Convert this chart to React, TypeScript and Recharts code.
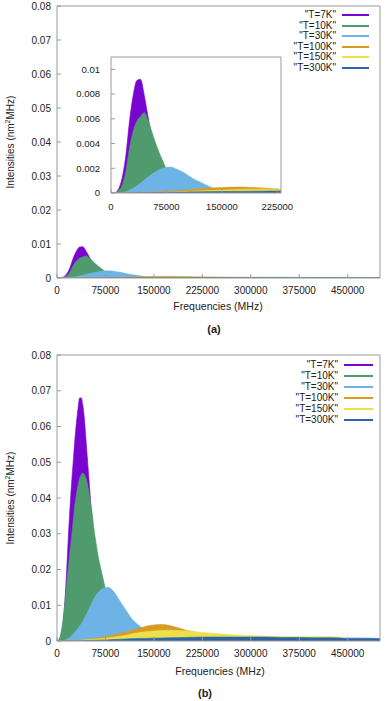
import { ComposedChart, Area, XAxis, YAxis } from 'recharts';

type Pt = [number, number];

const seriesNames = ['"T=7K"', '"T=10K"', '"T=30K"', '"T=100K"', '"T=150K"', '"T=300K"'];
const seriesColors = ['#7b05d0', '#4f9b6d', '#6db3e6', '#d99a22', '#ece04a', '#2d64a8'];

const freqTicks = [0, 75000, 150000, 225000, 300000, 375000, 450000];
const insetFreqTicks = [0, 75000, 150000, 225000];
const intensityTicks = [0, 0.01, 0.02, 0.03, 0.04, 0.05, 0.06, 0.07, 0.08];
const insetIntensityTicks = [0, 0.002, 0.004, 0.006, 0.008, 0.01];

// panel (a): [frequency MHz, intensity]
const a7K: Pt[] = [
  [0, 0], [5000, 0], [10000, 0.0003], [15000, 0.0012], [20000, 0.003], [25000, 0.0058],
  [30000, 0.0079], [35000, 0.0091], [40000, 0.0092], [45000, 0.0079], [50000, 0.0062],
  [55000, 0.0045], [60000, 0.0031], [65000, 0.002], [70000, 0.0011], [75000, 0.0006],
  [80000, 0.0003], [85000, 0.00012], [90000, 0.00005], [95000, 0],
];
const a10K: Pt[] = [
  [0, 0], [5000, 0], [10000, 0.0002], [15000, 0.0006], [20000, 0.0017], [25000, 0.0036],
  [30000, 0.005], [35000, 0.0058], [40000, 0.0062], [45000, 0.0065], [50000, 0.0059],
  [55000, 0.005], [60000, 0.0041], [65000, 0.0033], [70000, 0.0026], [75000, 0.0019],
  [80000, 0.0013], [85000, 0.0009], [90000, 0.0006], [95000, 0.0004], [100000, 0.00025],
  [110000, 0.0001], [120000, 0.00004], [130000, 0],
];
const a30K: Pt[] = [
  [0, 0], [10000, 0], [20000, 0.0001], [30000, 0.0004], [40000, 0.0008], [50000, 0.0013],
  [60000, 0.0017], [70000, 0.002], [80000, 0.0021], [90000, 0.0019], [100000, 0.0016],
  [110000, 0.0012], [120000, 0.0009], [130000, 0.0006], [140000, 0.00035], [150000, 0.00022],
  [160000, 0.00013], [180000, 0.00005], [200000, 0],
];
const a100K: Pt[] = [
  [0, 0], [25000, 0.00002], [50000, 0.00006], [75000, 0.00013], [100000, 0.00023],
  [125000, 0.00036], [150000, 0.00045], [175000, 0.00048], [200000, 0.00042],
  [225000, 0.00032], [250000, 0.00022], [275000, 0.00013], [300000, 0.00007],
  [325000, 0.00003], [350000, 0.00001], [375000, 0],
];
const a150K: Pt[] = [
  [0, 0], [25000, 0.00001], [50000, 0.00003], [75000, 0.00007], [100000, 0.00012],
  [125000, 0.00018], [150000, 0.00024], [175000, 0.00029], [200000, 0.00031],
  [225000, 0.00031], [250000, 0.00027], [275000, 0.0002], [300000, 0.00014],
  [325000, 0.00009], [350000, 0.00005], [375000, 0.00002], [400000, 0],
];
const a300K: Pt[] = [
  [0, 0], [50000, 0.00003], [100000, 0.00008], [150000, 0.00012], [200000, 0.00015],
  [250000, 0.00017], [300000, 0.00018], [350000, 0.00018], [400000, 0.00017],
  [450000, 0.00016], [500000, 0.00015],
];

// panel (b)
const b7K: Pt[] = [
  [0, 0], [2500, 0.0002], [5000, 0.001], [7500, 0.003], [10000, 0.006], [12500, 0.012],
  [15000, 0.02], [17500, 0.029], [20000, 0.037], [22500, 0.044], [25000, 0.05],
  [27500, 0.056], [30000, 0.061], [32500, 0.065], [35000, 0.068], [37500, 0.068],
  [40000, 0.066], [42500, 0.062], [45000, 0.056], [47500, 0.05], [50000, 0.044],
  [52500, 0.038], [55000, 0.032], [57500, 0.026], [60000, 0.021], [62500, 0.017],
  [65000, 0.013], [67500, 0.01], [70000, 0.0075], [75000, 0.0045], [80000, 0.0025],
  [85000, 0.0013], [90000, 0.0006], [95000, 0.0002], [100000, 0],
];
const b10K: Pt[] = [
  [0, 0], [2500, 0.0003], [5000, 0.0012], [7500, 0.0035], [10000, 0.007], [12500, 0.0115],
  [15000, 0.016], [17500, 0.0205], [20000, 0.025], [22500, 0.029], [25000, 0.0335],
  [27500, 0.038], [30000, 0.041], [32500, 0.0435], [35000, 0.0455], [37500, 0.0465],
  [40000, 0.047], [42500, 0.0465], [45000, 0.0455], [47500, 0.0435], [50000, 0.041],
  [52500, 0.038], [55000, 0.035], [57500, 0.031], [60000, 0.028], [62500, 0.025],
  [65000, 0.0225], [67500, 0.0205], [70000, 0.0185], [72500, 0.0165], [75000, 0.0145],
  [77500, 0.012], [80000, 0.01], [85000, 0.0068], [90000, 0.0045], [95000, 0.003],
  [100000, 0.0019], [110000, 0.0007], [120000, 0.0002], [130000, 0],
];
const b30K: Pt[] = [
  [0, 0], [5000, 0], [10000, 0.0001], [15000, 0.0005], [20000, 0.001], [25000, 0.0019],
  [30000, 0.003], [35000, 0.0042], [40000, 0.0055], [45000, 0.0073], [50000, 0.0091],
  [55000, 0.0111], [60000, 0.0127], [65000, 0.0138], [70000, 0.0146], [75000, 0.015],
  [80000, 0.015], [85000, 0.0144], [90000, 0.0133], [95000, 0.0119], [100000, 0.0104],
  [105000, 0.0091], [110000, 0.0077], [115000, 0.0064], [120000, 0.0054], [125000, 0.0046],
  [130000, 0.0039], [135000, 0.0032], [140000, 0.0026], [150000, 0.0018], [160000, 0.0011],
  [170000, 0.0007], [180000, 0.0004], [200000, 0.0001], [220000, 0],
];
const b100K: Pt[] = [
  [0, 0], [12500, 0.00003], [25000, 0.0001], [37500, 0.00025], [50000, 0.0005],
  [62500, 0.0008], [75000, 0.0012], [87500, 0.0017], [100000, 0.0022], [112500, 0.0028],
  [125000, 0.0034], [137500, 0.0041], [150000, 0.0045], [162500, 0.0046], [175000, 0.0043],
  [187500, 0.0037], [200000, 0.003], [212500, 0.0025], [225000, 0.002], [250000, 0.0013],
  [275000, 0.0008], [300000, 0.0005], [325000, 0.0003], [350000, 0.00015],
  [375000, 0.00006], [400000, 0],
];
const b150K: Pt[] = [
  [0, 0], [25000, 0.0001], [50000, 0.0004], [75000, 0.0008], [100000, 0.0014],
  [125000, 0.0023], [150000, 0.0028], [175000, 0.003], [200000, 0.0028], [225000, 0.0024],
  [250000, 0.002], [275000, 0.0017], [300000, 0.0015], [325000, 0.0013], [350000, 0.0012],
  [375000, 0.0012], [400000, 0.0012], [425000, 0.0012], [437500, 0.0011], [442500, 0],
];
const b300K: Pt[] = [
  [0, 0], [25000, 0.00005], [50000, 0.00015], [75000, 0.0003], [100000, 0.0005],
  [125000, 0.0007], [150000, 0.0008], [175000, 0.0009], [200000, 0.001], [225000, 0.0011],
  [250000, 0.0011], [275000, 0.0011], [300000, 0.0011], [325000, 0.0011], [350000, 0.001],
  [375000, 0.001], [400000, 0.0009], [425000, 0.0009], [450000, 0.0008], [475000, 0.0008],
  [500000, 0.0007],
];

const panelA = [a7K, a10K, a30K, a100K, a150K, a300K];
const panelB = [b7K, b10K, b30K, b100K, b150K, b300K];

const axisColor = '#9a9a9a';
const textColor = '#222';
const font = '"Liberation Sans", Arial, Helvetica, sans-serif';

const rows = (pts: Pt[]) => pts.map(([f, v]) => ({ f, v }));

interface PlotProps {
  series: Pt[][];
  width: number;
  height: number;
  margin: { top: number; right: number; bottom: number; left: number };
  xMax: number;
  yMax: number;
  xTicks: number[];
  yTicks: number[];
  fontSize: number;
  yAxisWidth: number;
  xTickMargin: number;
  yTickMargin: number;
}

const Plot = ({ series, width, height, margin, xMax, yMax, xTicks, yTicks, fontSize, yAxisWidth, xTickMargin, yTickMargin }: PlotProps) => {
  const tickStyle = { fontSize, fill: textColor, fontFamily: font };
  return (
    <ComposedChart width={width} height={height} margin={margin}>
      <XAxis xAxisId="b" dataKey="f" type="number" domain={[0, xMax]} ticks={xTicks} allowDataOverflow
        orientation="bottom" height={20} stroke={axisColor} tickSize={-4} tickMargin={xTickMargin} tick={tickStyle} interval={0} />
      <XAxis xAxisId="t" dataKey="f" type="number" domain={[0, xMax]} ticks={xTicks} allowDataOverflow
        orientation="top" height={1} stroke={axisColor} tickSize={-4} tick={false} interval={0} />
      <YAxis yAxisId="l" type="number" domain={[0, yMax]} ticks={yTicks} allowDataOverflow
        width={yAxisWidth} stroke={axisColor} tickSize={-4} tickMargin={yTickMargin} tick={tickStyle} interval={0} />
      <YAxis yAxisId="r" type="number" domain={[0, yMax]} ticks={yTicks} allowDataOverflow orientation="right"
        width={1} stroke={axisColor} tickSize={-4} tick={false} interval={0} />
      {series.map((pts, i) => (
        <Area
          key={seriesNames[i]}
          xAxisId="b"
          yAxisId="l"
          data={rows(pts)}
          dataKey="v"
          type="monotone"
          fill={seriesColors[i]}
          fillOpacity={1}
          stroke={seriesColors[i]}
          strokeWidth={0.6}
          dot={false}
          activeDot={false}
          isAnimationActive={false}
        />
      ))}
    </ComposedChart>
  );
};

const LegendBox = ({ top, gap, textRight, lineLeft, lineWidth }: { top: number; gap: number; textRight: number; lineLeft: number; lineWidth: number }) => (
  <>
    {seriesNames.map((name, i) => (
      <div key={name}>
        <div style={{ position: 'absolute', left: textRight - 80, width: 80, top: top + i * gap - 6, height: 12, lineHeight: '12px', textAlign: 'right', fontSize: 10, color: textColor, fontFamily: font }}>
          {name}
        </div>
        <div style={{ position: 'absolute', left: lineLeft, width: lineWidth, top: top + i * gap - 1, height: 2, background: seriesColors[i] }} />
      </div>
    ))}
  </>
);

const YTitle = ({ cx, cy }: { cx: number; cy: number }) => (
  <div style={{ position: 'absolute', left: cx, top: cy, transform: 'translate(-50%, -50%) rotate(-90deg)', whiteSpace: 'nowrap', fontSize: 10, color: textColor, fontFamily: font }}>
    Intensities (nm<sup style={{ fontSize: 7 }}>2</sup>MHz)
  </div>
);

const CenterText = ({ cx, cy, text, bold }: { cx: number; cy: number; text: string; bold?: boolean }) => (
  <div style={{ position: 'absolute', left: cx, top: cy, transform: 'translate(-50%, -50%)', whiteSpace: 'nowrap', fontSize: bold ? 11 : 10.5, fontWeight: bold ? 'bold' : 'normal', color: textColor, fontFamily: font }}>
    {text}
  </div>
);

const App = () => {
  return (
    <div style={{ position: 'absolute', left: 0, top: 0, width: 387, height: 701, background: '#fff', overflow: 'hidden' }}>
      {/* panel (a) */}
      <div style={{ position: 'absolute', left: 0, top: 0 }}>
        <Plot series={panelA} width={387} height={300} margin={{ top: 5, right: 6, bottom: 2, left: 0 }}
          xMax={500000} yMax={0.08} xTicks={freqTicks} yTicks={intensityTicks} fontSize={10}
          yAxisWidth={57} xTickMargin={13} yTickMargin={10} />
      </div>
      {/* inset */}
      <div style={{ position: 'absolute', left: 60, top: 50 }}>
        <Plot series={panelA} width={250} height={170} margin={{ top: 6, right: 28, bottom: 7, left: 0 }}
          xMax={230000} yMax={0.011} xTicks={insetFreqTicks} yTicks={insetIntensityTicks} fontSize={9.5}
          yAxisWidth={51} xTickMargin={14} yTickMargin={15} />
      </div>
      <LegendBox top={15} gap={10.5} textRight={336} lineLeft={342} lineWidth={27} />
      <YTitle cx={10} cy={142} />
      <CenterText cx={218} cy={306} text="Frequencies (MHz)" />
      <CenterText cx={214} cy={329} text="(a)" bold />

      {/* panel (b) */}
      <div style={{ position: 'absolute', left: 0, top: 349 }}>
        <Plot series={panelB} width={387} height={314} margin={{ top: 5, right: 6, bottom: 2, left: 0 }}
          xMax={500000} yMax={0.08} xTicks={freqTicks} yTicks={intensityTicks} fontSize={10}
          yAxisWidth={57} xTickMargin={13} yTickMargin={10} />
      </div>
      <LegendBox top={365} gap={11} textRight={338} lineLeft={344} lineWidth={29} />
      <YTitle cx={10} cy={498} />
      <CenterText cx={220} cy={671} text="Frequencies (MHz)" />
      <CenterText cx={205} cy={693} text="(b)" bold />
    </div>
  );
};

export default App;
